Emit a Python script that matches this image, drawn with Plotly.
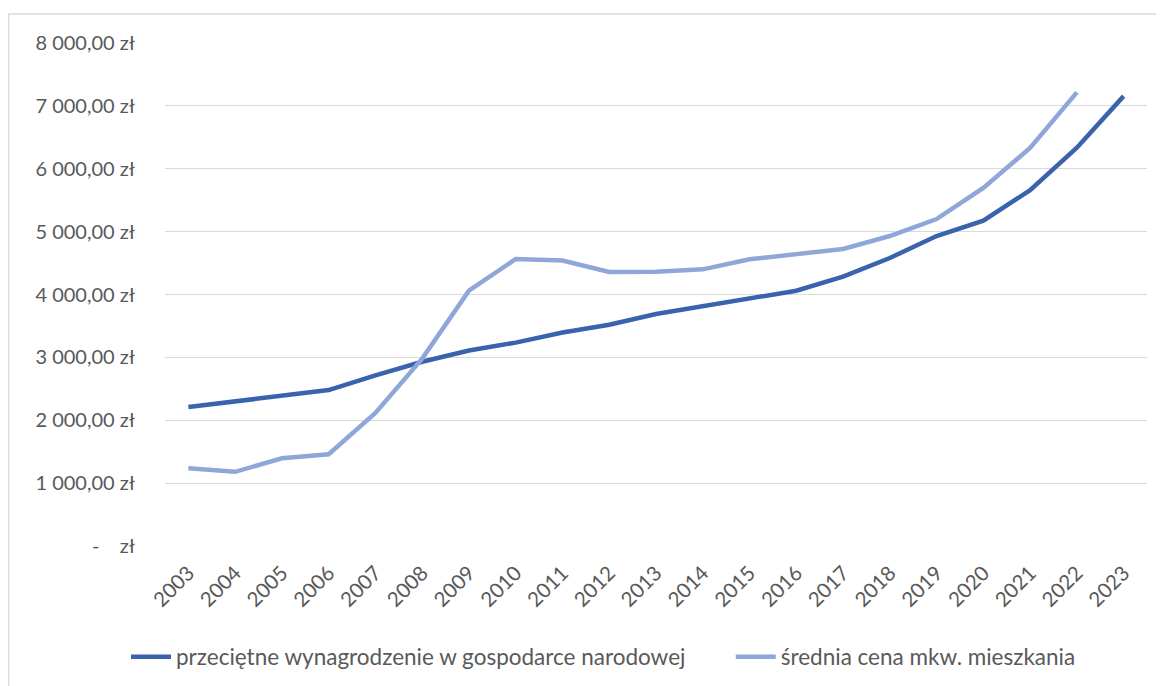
import plotly.graph_objects as go

years = [str(y) for y in range(2003, 2024)]
wynagrodzenie = [2210, 2295, 2385, 2480, 2715, 2930, 3110, 3235, 3395, 3520, 3690, 3810, 3925, 4060, 4285, 4580, 4930, 5175, 5660, 6335, 7155]
cena_mkw = [1235, 1180, 1395, 1460, 2115, 2980, 4060, 4565, 4540, 4358, 4360, 4400, 4560, 4640, 4725, 4930, 5200, 5695, 6330, 7215]
tick_vals = [0, 1000, 2000, 3000, 4000, 5000, 6000, 7000, 8000]
tick_text = ["-\u00a0\u00a0\u00a0\u00a0zł", "1\u00a0000,00 zł", "2\u00a0000,00 zł", "3\u00a0000,00 zł", "4\u00a0000,00 zł",
             "5\u00a0000,00 zł", "6\u00a0000,00 zł", "7\u00a0000,00 zł", "8\u00a0000,00 zł"]
series_names = ["przeciętne wynagrodzenie w gospodarce narodowej" + "\u00a0" * 7,
                "średnia cena mkw. mieszkania"]

FONT = "Lato, Liberation Sans, sans-serif"
GREY = "#595959"

fig = go.Figure()
fig.add_trace(go.Scatter(x=years, y=wynagrodzenie, mode="lines",
                         name=series_names[0],
                         line=dict(color="#3A63AD", width=4.5)))
fig.add_trace(go.Scatter(x=years[:len(cena_mkw)], y=cena_mkw, mode="lines",
                         name=series_names[1],
                         line=dict(color="#8FA7D8", width=4.5)))

# page body has an 8px margin, so the figure is drawn 8px smaller / shifted
W, H = 1156, 678
L, T = 157, 35
R = W - 1139
B = H - 538
pw, ph = W - L - R, H - T - B

fig.update_layout(
    width=W, height=H,
    margin=dict(l=L, r=R, t=T, b=B, autoexpand=False),
    paper_bgcolor="white", plot_bgcolor="white",
    font=dict(family=FONT, size=20, color=GREY),
    showlegend=True,
    legend=dict(orientation="h", xref="container", yref="container",
                x=118 / W, y=1 - 649 / H, xanchor="left", yanchor="middle",
                font=dict(size=22.5, color=GREY), itemwidth=40,
                traceorder="normal"),
    shapes=[dict(type="rect", xref="paper", yref="paper",
                 x0=(0.5 - L) / pw, x1=(W + 20 - L) / pw,
                 y0=(H - B - (H + 20)) / ph, y1=(H - B - 6) / ph,
                 line=dict(color="#D9D9D9", width=1.5), fillcolor="rgba(0,0,0,0)",
                 layer="below")],
)
fig.update_xaxes(type="category", range=[-0.5, 20.5], tickangle=-45,
                 showgrid=False, showline=False, ticks="", automargin=False,
                 ticklabelstandoff=10,
                 tickfont=dict(size=20.5, color=GREY))
fig.update_yaxes(range=[0, 8000], tickvals=tick_vals, ticktext=tick_text,
                 showgrid=True, gridcolor="#D9D9D9", gridwidth=1.2,
                 zeroline=False, showline=False, ticks="", automargin=False,
                 ticklabelstandoff=29,
                 tickfont=dict(size=20, color=GREY))

fig.write_html("out.html")
